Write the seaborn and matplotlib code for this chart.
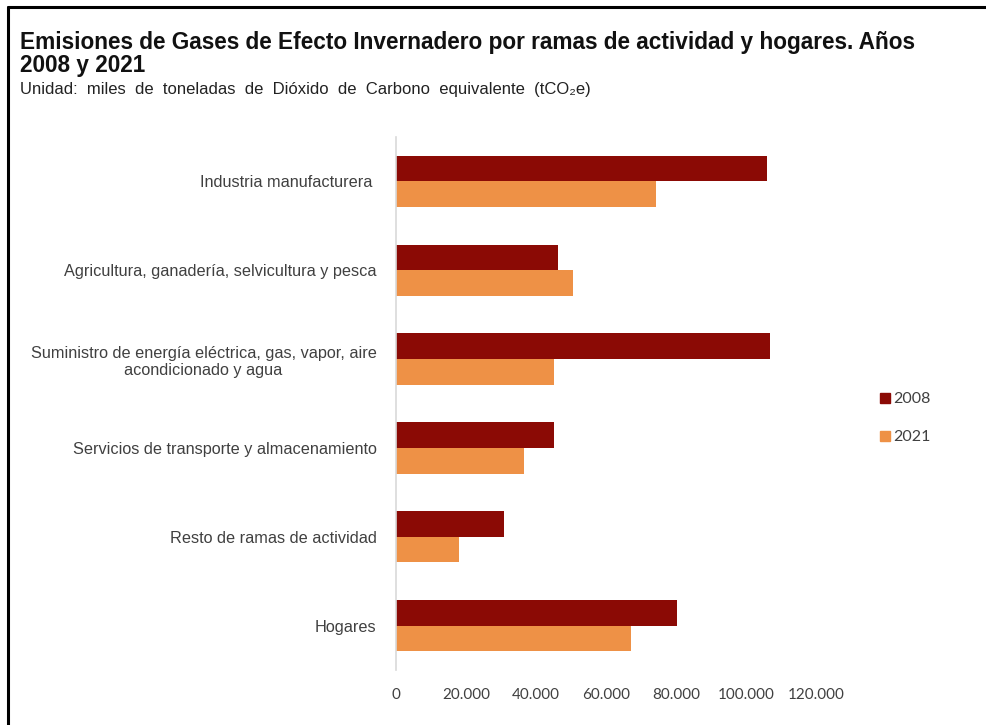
import matplotlib
matplotlib.use("Agg")
import matplotlib.pyplot as plt
from matplotlib.lines import Line2D
import pandas as pd
import seaborn as sns

# Emissions by activity branch (thousand tCO2e)
categories = [
    "Industria manufacturera ",
    "Agricultura, ganadería, selvicultura y pesca",
    "Suministro de energía eléctrica, gas, vapor, aire\nacondicionado y agua",
    "Servicios de transporte y almacenamiento",
    "Resto de ramas de actividad",
    "Hogares",
]
values_2008 = [105900, 46200, 106900, 45100, 30900, 80200]
values_2021 = [74300, 50500, 45100, 36700, 18100, 67100]
years = ["2008", "2021"]
x_ticks = [0, 20000, 40000, 60000, 80000, 100000, 120000]
x_tick_labels = ["0", "20.000", "40.000", "60.000", "80.000", "100.000", "120.000"]

colors = {"2008": "#8B0A05", "2021": "#EE9146"}

df = pd.DataFrame({
    "rama": categories * 2,
    "anio": [years[0]] * len(categories) + [years[1]] * len(categories),
    "valor": values_2008 + values_2021,
})

sns.set_theme(style="white")
plt.rcParams["font.family"] = ["Liberation Sans", "DejaVu Sans"]

fig = plt.figure(figsize=(9.87, 7.25), dpi=100)
ax = fig.add_axes([0.4012, 0.0759, 0.4255, 0.7351])

sns.barplot(data=df, y="rama", x="valor", hue="anio", order=categories,
            hue_order=years, palette=colors, orient="h", width=0.58,
            saturation=1, legend=False, linewidth=0, ax=ax)

ax.set_xlim(0, 120000)
ax.set_ylim(5.5, -0.5)
ax.set_xticks(x_ticks)
ax.set_xticklabels(x_tick_labels, fontsize=11, color="#404040",
                   family=["Lato", "DejaVu Sans"])
ax.tick_params(axis="x", length=0, pad=13)
ax.tick_params(axis="y", length=0, pad=14)
for lbl in ax.get_yticklabels():
    lbl.set_fontsize(11.7)
    lbl.set_color("#404040")
    lbl.set_multialignment("center")
ax.set_xlabel("")
ax.set_ylabel("")
for side in ["top", "right", "bottom"]:
    ax.spines[side].set_visible(False)
ax.spines["left"].set_color("#d9d9d9")
ax.spines["left"].set_linewidth(1.2)

# Legend to the right of the bars
handles = [Line2D([0], [0], marker="s", linestyle="", markersize=7.5,
                  markerfacecolor=colors[y], markeredgecolor=colors[y]) for y in years]
fig.legend(handles, years, loc="center left", bbox_to_anchor=(0.876, 0.423),
           frameon=False, handletextpad=0.1, labelspacing=1.5,
           prop={"family": ["Lato", "DejaVu Sans"], "size": 11.5},
           labelcolor="#404040", handlelength=0.8)

# Titles
fig.text(0.0205, 0.942, "Emisiones de Gases de Efecto Invernadero por ramas de actividad y hogares. Años",
         fontsize=16.3, fontweight="bold", color="#111111", va="center", ha="left")
fig.text(0.0205, 0.909, "2008 y 2021", fontsize=16.3, fontweight="bold",
         color="#111111", va="center", ha="left")
fig.text(0.0205, 0.877, "Unidad:  miles  de  toneladas  de  Dióxido  de  Carbono  equivalente  (tCO₂e)",
         fontsize=12, color="#222222", va="center", ha="left")

# Frame lines along the top and left edges
fig.add_artist(Line2D([0.008, 1.0], [0.9897, 0.9897], color="black", lw=2.2,
                      transform=fig.transFigure))
fig.add_artist(Line2D([0.0085, 0.0085], [0.0, 0.9897], color="black", lw=2.2,
                      transform=fig.transFigure))

fig.savefig("out.png", dpi=100, facecolor="white")
